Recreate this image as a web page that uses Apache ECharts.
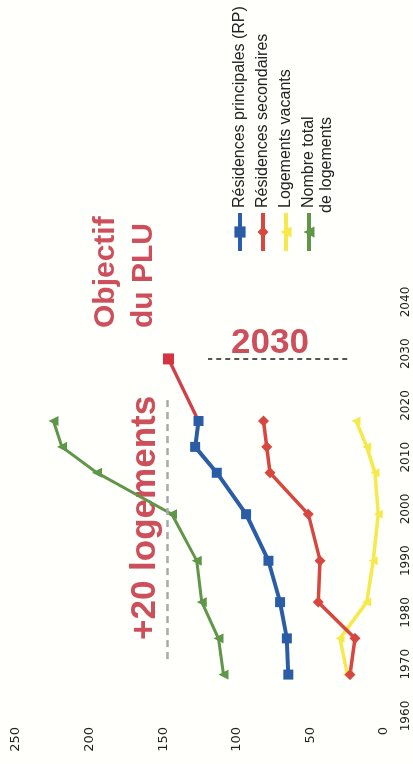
<!DOCTYPE html>
<html>
<head>
<meta charset="utf-8">
<script src="https://cdn.jsdelivr.net/npm/echarts@6/dist/echarts.min.js"></script>
<style>
  html, body { margin: 0; padding: 0; background: #fffffc; overflow: hidden; }
  /* le graphique est dessiné à plat puis tourné de 90° (sens anti-horaire) */
  #chart {
    position: absolute; left: 0; top: 0;
    width: 764px; height: 413px;
    transform-origin: 0 0;
    transform: translate(0, 764px) rotate(-90deg);
  }
</style>
</head>
<body>
<div id="chart"></div>
<script>
// données (nombre de logements)
var annees = [1968, 1975, 1982, 1990, 1999, 2007, 2012, 2017];
var principales = [65, 66, 70.6, 78.5, 93.7, 113.6, 128.3, 126];
var secondaires = [23.1, 19.7, 44.6, 43.4, 51.4, 77.4, 79.6, 81.9];
var vacants = [24.9, 29.9, 11.7, 7.3, 3.9, 6.1, 11.7, 19];
var total = [109, 112.5, 123.8, 127.2, 144.1, 195, 218.8, 224.5];

var objectifAnnees = [2017, 2029];
var objectifValeurs = [126, 146.4];

var ligneObjectif = { debut: 1971, fin: 2022, valeur: 147 };   // pointillé gris
var ligne2030 = { annee: 2029, bas: 25, haut: 119.5 };        // pointillé foncé

var anneeTicks = [1960, 2040, 10];
var valeurTicks = [0, 250, 50];

function paires(xs, ys) {
    var out = [];
    for (var i = 0; i < xs.length; i++) {
        out.push([xs[i], ys[i]]);
    }
    return out;
}

var rouge = '#cd4f5b';
var policeLegende = '16px "Liberation Sans", Arial, sans-serif';
var dom = document.getElementById('chart');
var chart = echarts.init(dom);

var objData = paires(objectifAnnees, objectifValeurs);
objData[0] = { value: objData[0], symbol: 'none' };

var option = {
    backgroundColor: '#fffffc',
    animation: false,
    grid: { left: 48, right: 302, top: 16, bottom: 29 },
    legend: {
        orient: 'vertical',
        left: 506,
        top: 224,
        itemWidth: 38,
        itemHeight: 14,
        itemGap: 1,
        lineStyle: { width: 4 },
        textStyle: {
            fontFamily: 'Liberation Sans, Arial, sans-serif',
            fontSize: 16,
            lineHeight: 22,
            color: '#222'
        },
        data: [
            'Résidences principales (RP)',
            'Résidences secondaires',
            'Logements vacants',
            'Nombre total'
        ]
    },
    xAxis: {
        type: 'value',
        min: anneeTicks[0],
        max: anneeTicks[1],
        interval: anneeTicks[2],
        axisLine: { show: false },
        axisTick: { show: false },
        splitLine: { show: false },
        axisLabel: {
            margin: 16,
            fontFamily: 'DejaVu Sans, sans-serif',
            fontSize: 12,
            color: '#222',
            formatter: function (v) { return String(v); }
        }
    },
    yAxis: {
        type: 'value',
        min: valeurTicks[0],
        max: valeurTicks[1],
        interval: valeurTicks[2],
        axisLine: { show: false },
        axisTick: { show: false },
        splitLine: { show: false },
        axisLabel: {
            margin: 11,
            fontFamily: 'DejaVu Sans, sans-serif',
            fontSize: 13,
            color: '#222'
        }
    },
    series: [
        {
            name: 'Logements vacants',
            type: 'line',
            data: paires(annees, vacants),
            color: '#f6e94c',
            symbol: 'triangle',
            symbolSize: 9,
            lineStyle: { width: 3.5 }
        },
        {
            name: 'Nombre total',
            type: 'line',
            data: paires(annees, total),
            color: '#5f9648',
            symbol: 'triangle',
            symbolSize: 10,
            lineStyle: { width: 3 }
        },
        {
            name: 'Résidences secondaires',
            type: 'line',
            data: paires(annees, secondaires),
            color: '#d8473f',
            symbol: 'diamond',
            symbolSize: 11,
            lineStyle: { width: 3.5 }
        },
        {
            name: 'Objectif',
            type: 'line',
            data: objData,
            color: '#d3343f',
            symbol: 'rect',
            symbolSize: 11,
            lineStyle: { width: 3.5, color: '#d0404a' },
            markLine: {
                silent: true,
                symbol: 'none',
                label: { show: false },
                data: [
                    [
                        { coord: [ligneObjectif.debut, ligneObjectif.valeur], lineStyle: { color: '#a8a8a8', width: 2.5, type: [7, 5] } },
                        { coord: [ligneObjectif.fin, ligneObjectif.valeur] }
                    ],
                    [
                        { coord: [ligne2030.annee, ligne2030.bas], lineStyle: { color: '#555', width: 2, type: [5, 4] } },
                        { coord: [ligne2030.annee, ligne2030.haut] }
                    ]
                ]
            }
        },
        {
            name: 'Résidences principales (RP)',
            type: 'line',
            data: paires(annees, principales),
            color: '#2b5da6',
            symbol: 'rect',
            symbolSize: 10,
            lineStyle: { width: 4 }
        }
    ],
    graphic: [
        {
            type: 'text',
            x: 124, y: 145,
            style: {
                text: '+20 logements',
                fill: rouge,
                font: 'bold 35px "Liberation Sans", Arial, sans-serif',
                align: 'left',
                verticalAlign: 'middle'
            }
        },
        {
            type: 'text',
            x: 436, y: 125,
            style: {
                text: 'Objectif\ndu PLU',
                fill: rouge,
                font: 'bold 30px "Liberation Sans", Arial, sans-serif',
                lineHeight: 38,
                align: 'left',
                verticalAlign: 'middle'
            }
        },
        {
            type: 'text',
            x: 421, y: 270,
            rotation: -Math.PI / 2,
            style: {
                text: '2030',
                fill: rouge,
                font: 'bold 35px "Liberation Sans", Arial, sans-serif',
                align: 'center',
                verticalAlign: 'middle'
            }
        },
        {
            // seconde ligne de la légende "Nombre total"
            type: 'text',
            x: 551, y: 327,
            style: {
                text: 'de logements',
                fill: '#222',
                font: policeLegende,
                align: 'left',
                verticalAlign: 'middle'
            }
        }
    ]
};

chart.setOption(option);
window.addEventListener('resize', function () {
    chart.resize();
});
</script>
</body>
</html>
